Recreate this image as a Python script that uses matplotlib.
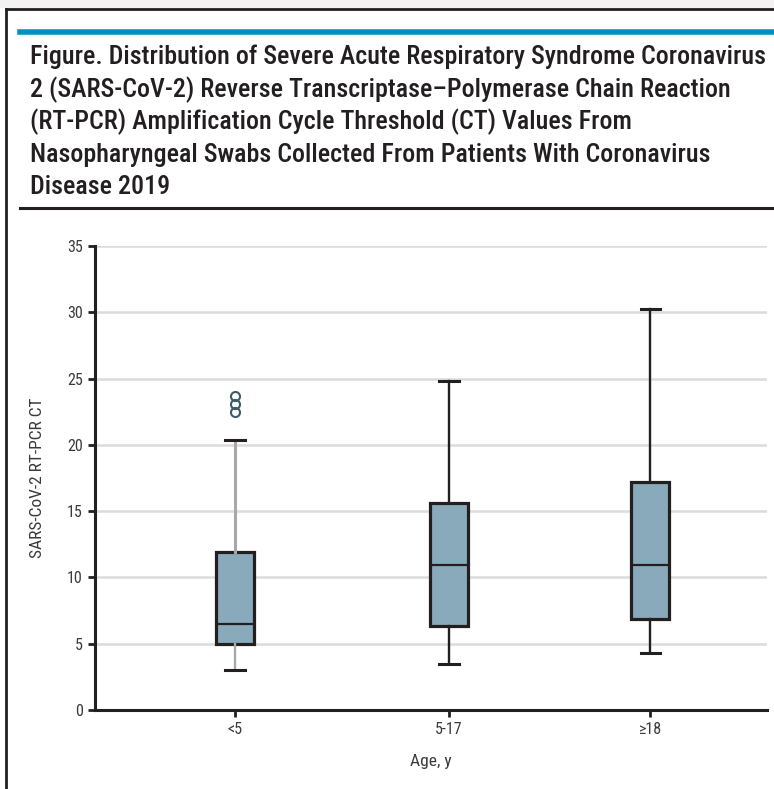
import matplotlib
matplotlib.use("Agg")
import matplotlib.pyplot as plt
from matplotlib import font_manager as fm
from matplotlib.lines import Line2D

names = {f.name for f in fm.fontManager.ttflist}
cond = None
for cand in ["Roboto Condensed", "Liberation Sans Narrow", "DejaVu Sans Condensed", "Open Sans Condensed"]:
    if cand in names:
        cond = cand
        break
FONT = cond or "Liberation Sans"

categories = ["<5", "5-17", "\u226518"]
whislo = [3.0, 3.5, 4.3]
q1 = [5.0, 6.3, 6.85]
med = [6.5, 10.95, 10.95]
q3 = [11.9, 15.65, 17.2]
whishi = [20.4, 24.85, 30.25]
fliers = [[23.7, 23.1, 22.5], [], []]
positions = [1, 2, 2.94]

W, H = 774, 789
fig = plt.figure(figsize=(W / 100, H / 100), dpi=100)
fig.patch.set_facecolor("white")

def fx(px):
    return px / W

def fy(py):
    return 1 - py / H

# frame lines
fig.add_artist(Line2D([fx(0), fx(774)], [fy(4), fy(4)], color="#F2F2F2", lw=6))
fig.add_artist(Line2D([fx(6), fx(774)], [fy(8.5), fy(8.5)], color="#231F20", lw=2))
fig.add_artist(Line2D([fx(6), fx(6)], [fy(8.5), fy(789)], color="#231F20", lw=2))
fig.add_artist(Line2D([fx(20), fx(774)], [fy(31.5), fy(31.5)], color="#0091C3", lw=4))
fig.add_artist(Line2D([fx(20), fx(774)], [fy(208), fy(208)], color="#231F20", lw=2.2))

title_lines = [
    "Figure. Distribution of Severe Acute Respiratory Syndrome Coronavirus",
    "2 (SARS-CoV-2) Reverse Transcriptase\u2013Polymerase Chain Reaction",
    "(RT-PCR) Amplification Cycle Threshold (CT) Values From",
    "Nasopharyngeal Swabs Collected From Patients With Coronavirus",
    "Disease 2019",
]
ys = [57, 90, 122, 155, 187]
txts = []
for t, y in zip(title_lines, ys):
    txts.append(fig.text(fx(30), fy(y), t, ha="left", va="center", fontsize=14,
                         family=FONT, color="#231F20", fontweight="medium"))
fig.canvas.draw()
r = fig.canvas.get_renderer()
w0 = txts[0].get_window_extent(r).width
target = 740
fs = 14 * target / w0
for t in txts:
    t.set_fontsize(fs)

ax = fig.add_axes([fx(95), fy(710), fx(767) - fx(95), fy(246) - fy(710)])
stats = []
for i in range(3):
    stats.append(dict(whislo=whislo[i], q1=q1[i], med=med[i], q3=q3[i],
                      whishi=whishi[i], fliers=fliers[i], label=categories[i]))
bp = ax.bxp(stats, positions=positions, widths=0.175, patch_artist=True,
            showfliers=True,
            boxprops=dict(facecolor="#88AABA", edgecolor="#231F20", linewidth=2.3),
            medianprops=dict(color="#231F20", linewidth=1.6),
            whiskerprops=dict(color="#231F20", linewidth=1.7),
            capprops=dict(color="#231F20", linewidth=2.2),
            flierprops=dict(marker="o", markersize=6.5, markerfacecolor="none",
                            markeredgecolor="#3E5C68", markeredgewidth=1.5))
for c in bp["caps"]:
    x0, x1 = c.get_xdata()
    m = (x0 + x1) / 2
    c.set_xdata([m - 0.045, m + 0.045])
bp["whiskers"][0].set_color("#A8A8A8")
bp["whiskers"][1].set_color("#A8A8A8")
bp["whiskers"][1].set_linewidth(2.2)

ax.set_xlim(0.346, 3.486)
ax.set_ylim(0, 35)
ax.set_yticks(range(0, 36, 5))
ax.set_xticks(positions)
ax.set_xticklabels(categories)
ax.yaxis.grid(True, color="#DCDCDC", linewidth=1.8)
ax.set_axisbelow(True)
for s in ["top", "right"]:
    ax.spines[s].set_visible(False)
for s in ["left", "bottom"]:
    ax.spines[s].set_linewidth(2.2)
    ax.spines[s].set_color("#231F20")
ax.tick_params(axis="both", direction="out", length=5, width=2, color="#231F20",
               labelsize=11.5, labelcolor="#3A3A3A", pad=4)
for lab in ax.get_xticklabels() + ax.get_yticklabels():
    lab.set_family(FONT)
ax.set_ylabel("SARS-CoV-2 RT-PCR CT", family=FONT, fontsize=12.5, color="#3A3A3A", labelpad=16)
ax.set_xlabel("Age, y", family=FONT, fontsize=12.5, color="#3A3A3A", labelpad=12)

fig.savefig("out.png", dpi=100)
